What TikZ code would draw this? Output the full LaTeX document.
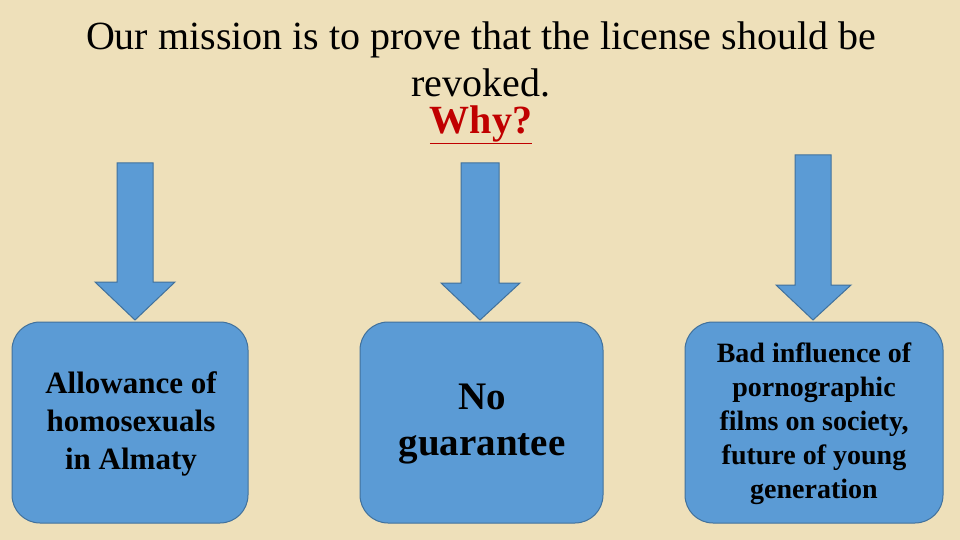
\documentclass[tikz,border=0pt]{standalone}
\usepackage{fontspec}
\setmainfont{Liberation Serif}
\definecolor{bg}{RGB}{238,224,186}
\definecolor{bluef}{RGB}{91,155,213}
\definecolor{blued}{RGB}{65,113,156}
\definecolor{why}{RGB}{192,0,0}
\begin{document}
\begin{tikzpicture}[x=1pt,y=-1pt,
  box/.style={draw=blued,line width=1pt,fill=bluef,rounded corners=28pt},
  arr/.style={draw=blued,line width=1pt,fill=bluef},
  lbl/.style={align=center,font=\bfseries}]
\fill[bg] (0,0) rectangle (960,540);
\useasboundingbox (0,0) rectangle (960,540);
\node[font=\fontsize{40}{44}\selectfont] (t1) at (481,40) {Our mission is to prove that the license should be};
\node[font=\fontsize{40}{44}\selectfont] (t2) at (481,83) {revoked.};
\node[font=\fontsize{40}{44}\selectfont\bfseries,text=why] (t3) at (481,125) {\underline{Why?}};
\draw[arr] (117,163)--(153,163)--(153,282)--(175,282)--(135,320)--(95,282)--(117,282)--cycle;
\draw[arr] (461,163)--(499,163)--(499,283)--(520,283)--(480,320)--(441,283)--(461,283)--cycle;
\draw[arr] (795,155)--(831,155)--(831,285)--(851,285)--(813,320)--(776,285)--(795,285)--cycle;
\draw[box] (12,322) rectangle (248,523);
\draw[box] (360,322) rectangle (603,523);
\draw[box] (685,322) rectangle (943,523);
\node[lbl,font=\fontsize{31}{38}\selectfont\bfseries] (b1) at (131,424) {Allowance of\\homosexuals\\in Almaty};
\node[lbl,font=\fontsize{39}{46}\selectfont\bfseries] (b2) at (482,424) {No\\guarantee};
\node[lbl,font=\fontsize{28}{34}\selectfont\bfseries] (b3) at (814,424) {Bad influence of\\pornographic\\films on society,\\future of young\\generation};
\end{tikzpicture}
\end{document}
